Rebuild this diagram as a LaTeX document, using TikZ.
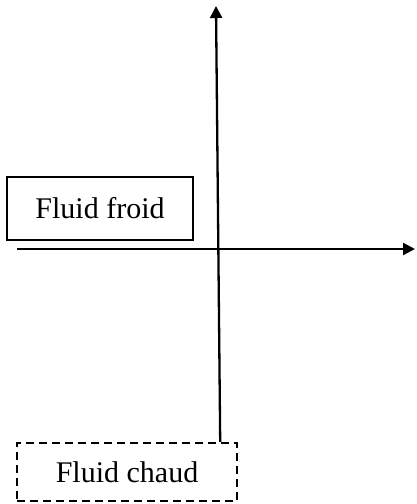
\documentclass[tikz,border=0pt]{standalone}
\usepackage{fontspec}
\setmainfont{Liberation Serif}
\usetikzlibrary{arrows.meta}
\begin{document}
\begin{tikzpicture}[x=1pt,y=-1pt,
  axis/.style={line width=2.3pt,-{Triangle[length=12pt,width=12pt]}},
  fluidbox/.style={draw,line width=2pt,inner sep=0pt,
    font=\fontsize{30}{36}\selectfont},
  hotbox/.style={fluidbox,line width=2.4pt,dash pattern=on 8pt off 5pt}]
  \useasboundingbox (0,0) rectangle (416,504);
  % labelled boxes
  \node[fluidbox,minimum width=186pt,minimum height=63pt] (froid) at (100,208.5) {Fluid froid};
  \node[hotbox,minimum width=220pt,minimum height=58pt] (chaud) at (127,472) {Fluid chaud};
  % axis end points
  \coordinate (xstart) at (17,249);
  \coordinate (xtip) at (415,249);
  \coordinate (ytip) at (216,6);
  % axes
  \draw[axis] (xstart) -- (xtip);
  \draw[axis] ([xshift=-18pt]chaud.north east) -- (ytip);
\end{tikzpicture}
\end{document}
